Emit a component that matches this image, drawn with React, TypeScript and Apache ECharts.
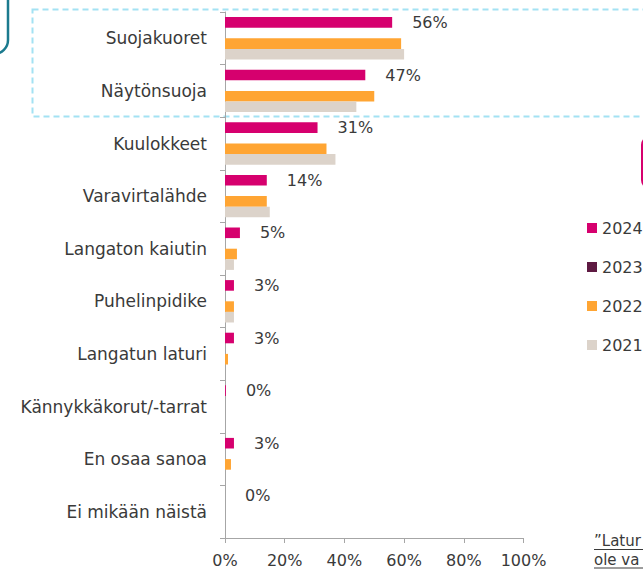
import React, { useEffect, useRef } from 'react';
import * as echarts from 'echarts';

const categories = [
  'Suojakuoret',
  'Näytönsuoja',
  'Kuulokkeet',
  'Varavirtalähde',
  'Langaton kaiutin',
  'Puhelinpidike',
  'Langatun laturi',
  'Kännykkäkorut/-tarrat',
  'En osaa sanoa',
  'Ei mikään näistä',
];
const years = ['2024', '2023', '2022', '2021'];
const values2024 = [56, 47, 31, 14, 5, 3, 3, 0.3, 3, 0];
const values2023: (number | null)[] = [null, null, null, null, null, null, null, null, null, null];
const values2022 = [59, 50, 34, 14, 4, 3, 1, null, 2, null];
const values2021 = [60, 44, 37, 15, 3, 3, null, null, null, null];
const footnoteLines = ['”Latur', 'ole va'];
const colors = ['#D6006E', '#5E1A42', '#FFA533', '#DCD3CA'];
const FONT = 'DejaVu Sans';
const TEXT = '#3a3a3a';

export default function App() {
  const ref = useRef<HTMLDivElement>(null);
  useEffect(() => {
    if (!ref.current) return;
    const chart = echarts.init(ref.current, undefined, { renderer: 'svg' });
    const allData = [values2024, values2023, values2022, values2021];
    chart.setOption({
      animation: false,
      textStyle: { fontFamily: FONT },
      grid: { left: 225, right: 119.5, top: 12, bottom: 36, containLabel: false },
      legend: {
        orient: 'vertical',
        left: 587,
        top: 220,
        padding: 0,
        itemWidth: 10,
        itemHeight: 10,
        itemGap: 23,
        icon: 'rect',
        data: years,
        textStyle: { fontFamily: FONT, fontSize: 16, color: TEXT },
      },
      xAxis: {
        type: 'value',
        min: 0,
        max: 100,
        interval: 20,
        axisLine: { show: true, lineStyle: { color: '#A6A6A6', width: 1 } },
        axisTick: { show: true, length: 5, lineStyle: { color: '#A6A6A6' } },
        splitLine: { show: false },
        axisLabel: { formatter: '{value}%', fontFamily: FONT, fontSize: 16, color: TEXT, margin: 14 },
      },
      yAxis: {
        type: 'category',
        inverse: true,
        data: categories,
        axisLine: { show: true, lineStyle: { color: '#A6A6A6', width: 1 } },
        axisTick: { show: true, length: 5, lineStyle: { color: '#A6A6A6' } },
        axisLabel: { fontFamily: FONT, fontSize: 17, color: TEXT, margin: 18 },
      },
      series: years.map((y, i) => ({
        name: y,
        type: 'bar',
        data: allData[i],
        barWidth: 10.6,
        barGap: '0%',
        itemStyle: { color: colors[i] },
        label:
          i === 0
            ? {
                show: true,
                position: 'right',
                distance: 20,
                fontFamily: FONT,
                fontSize: 16,
                color: TEXT,
                formatter: (p: any) => `${Math.round(p.value)}%`,
              }
            : { show: false },
      })),
      graphic: [
        {
          type: 'rect',
          shape: { x: -60, y: -60, width: 68, height: 114, r: 14 },
          style: { fill: 'none', stroke: '#1B7A8E', lineWidth: 2.5 },
        },
        {
          type: 'rect',
          shape: { x: 32.5, y: 9.5, width: 700, height: 107 },
          style: { fill: 'none', stroke: '#A3E2F3', lineWidth: 2, lineDash: [6, 4] },
        },
        {
          type: 'rect',
          shape: { x: 642, y: 137, width: 60, height: 51, r: 8 },
          style: { fill: 'none', stroke: '#D6006E', lineWidth: 2 },
        },
        {
          type: 'text',
          x: 594,
          y: 541,
          style: { text: footnoteLines[0], fontFamily: FONT, fontSize: 15, fill: TEXT, verticalAlign: 'middle' },
        },
        {
          type: 'line',
          shape: { x1: 594, y1: 549.5, x2: 643, y2: 549.5 },
          style: { stroke: TEXT, lineWidth: 1 },
        },
        {
          type: 'text',
          x: 594,
          y: 559.5,
          style: { text: footnoteLines[1], fontFamily: FONT, fontSize: 15, fill: TEXT, verticalAlign: 'middle' },
        },
        {
          type: 'line',
          shape: { x1: 594, y1: 568, x2: 643, y2: 568 },
          style: { stroke: TEXT, lineWidth: 1 },
        },
      ],
    });
    return () => chart.dispose();
  }, []);
  return (
    <div
      ref={ref}
      style={{ position: 'fixed', left: 0, top: 0, width: 643, height: 574, background: '#fff' }}
    />
  );
}
